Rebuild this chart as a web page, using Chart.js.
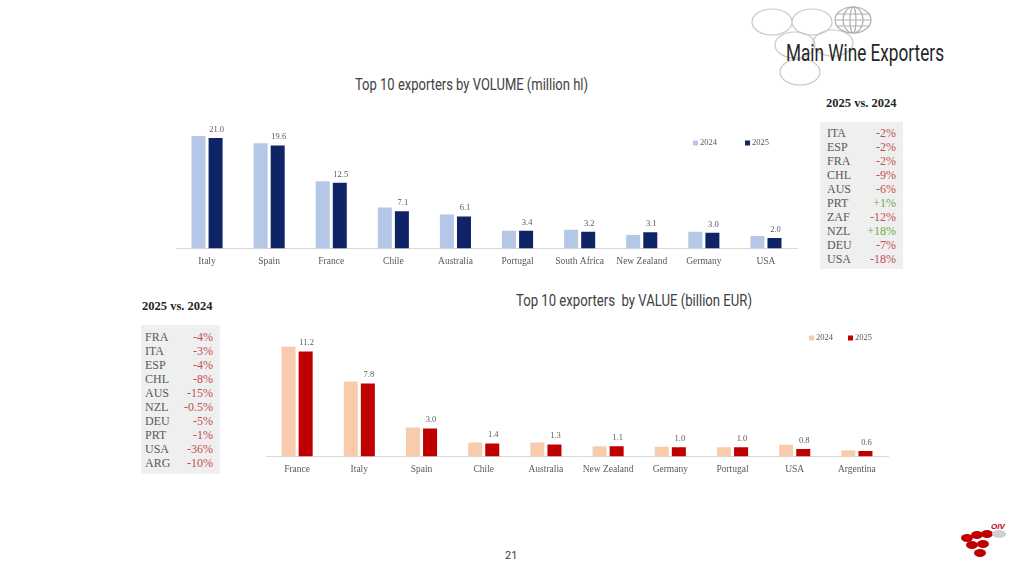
<!DOCTYPE html>
<html>
<head>
<meta charset="utf-8">
<script src="https://cdn.jsdelivr.net/npm/chart.js@4.4.1/dist/chart.umd.min.js"></script>
<style>
  body { margin: 0; width: 1024px; height: 576px; background: #fff; position: relative; overflow: hidden; }
  .abs { position: absolute; }
  .narrow { font-family: "Roboto", sans-serif; font-weight: 400; color: #262626; white-space: nowrap; transform-origin: 0 0; }
  .hdr { font-family: "Liberation Serif", serif; font-weight: bold; font-size: 12.5px; color: #262626; }
  .tbl { background: #efefef; font-family: "Liberation Serif", serif; font-size: 12px; line-height: 14px; color: #595959; }
  .tbl .row { display: flex; justify-content: space-between; }
  .neg { color: #c0504d; }
  .pos { color: #70ad47; }
</style>
</head>
<body>
<svg class="abs" style="left:0;top:0" width="1024" height="576">
  <g fill="none" stroke="#c8c8c8" stroke-width="1.2">
    <ellipse cx="772" cy="22" rx="20" ry="13"/>
    <ellipse cx="812" cy="22" rx="20" ry="13"/>
    <ellipse cx="795" cy="45" rx="20" ry="13"/>
    <ellipse cx="833" cy="43" rx="20" ry="13"/>
    <ellipse cx="800" cy="72" rx="20" ry="13"/>
    <ellipse cx="853" cy="20" rx="18" ry="13" stroke="#b0b0b0"/>
    <ellipse cx="853" cy="20" rx="10" ry="13" stroke="#b0b0b0"/>
    <ellipse cx="853" cy="20" rx="3" ry="13" stroke="#b0b0b0"/>
    <line x1="836" y1="14" x2="870" y2="14" stroke="#b0b0b0"/>
    <line x1="835" y1="20" x2="871" y2="20" stroke="#b0b0b0"/>
    <line x1="836" y1="26" x2="870" y2="26" stroke="#b0b0b0"/>
  </g>
  <g fill="#c00000">
    <ellipse cx="967" cy="538" rx="6" ry="4"/>
    <ellipse cx="977" cy="535" rx="6" ry="4"/>
    <ellipse cx="987" cy="534" rx="6" ry="4"/>
    <ellipse cx="972" cy="545" rx="6" ry="4"/>
    <ellipse cx="983" cy="544" rx="6" ry="4"/>
    <ellipse cx="980" cy="553" rx="6" ry="4"/>
  </g>
  <ellipse cx="999" cy="534" rx="7" ry="4" fill="#d0d0d0"/>
  <text x="991" y="529" font-family="Liberation Sans, sans-serif" font-style="italic" font-weight="bold" font-size="8" fill="#c00000">OIV</text>
</svg>

<div class="abs narrow fit" data-w="158" style="left:786px;top:40px;font-size:23px;">Main Wine Exporters</div>
<div class="abs narrow fit" data-w="233" style="left:355px;top:75px;font-size:16px;color:#404040;">Top 10 exporters by VOLUME (million hl)</div>
<div class="abs narrow fit" data-w="236" style="left:516px;top:291px;font-size:16px;color:#404040;">Top 10 exporters&nbsp; by VALUE (billion EUR)</div>
<div class="abs narrow" style="left:505px;top:549px;font-size:11px;color:#404040;">21</div>

<div class="abs hdr" style="left:826px;top:96px;">2025 vs. 2024</div>
<div class="abs tbl" id="tblVolume" style="left:820px;top:122px;width:69px;padding:4px 7px 3px 7px;"></div>
<div class="abs hdr" style="left:142px;top:299px;">2025 vs. 2024</div>
<div class="abs tbl" id="tblValue" style="left:141px;top:325px;width:68px;padding:5px 7px 4px 4px;"></div>

<canvas id="volumeChart" class="abs" width="680" height="175" style="left:146px;top:100px;"></canvas>
<canvas id="valueChart" class="abs" width="680" height="160" style="left:236px;top:330px;"></canvas>

<script>
// Volume (million hl)
const volumeCountries = ['Italy', 'Spain', 'France', 'Chile', 'Australia', 'Portugal', 'South Africa', 'New Zealand', 'Germany', 'USA'];
const volume2024 = [21.4, 20.0, 12.8, 7.8, 6.5, 3.4, 3.6, 2.6, 3.2, 2.4];
const volume2025 = [21.0, 19.6, 12.5, 7.1, 6.1, 3.4, 3.2, 3.1, 3.0, 2.0];
const volumeCodes = ['ITA', 'ESP', 'FRA', 'CHL', 'AUS', 'PRT', 'ZAF', 'NZL', 'DEU', 'USA'];
const volumeChange = ['-2%', '-2%', '-2%', '-9%', '-6%', '+1%', '-12%', '+18%', '-7%', '-18%'];

// Value (billion EUR)
const valueCountries = ['France', 'Italy', 'Spain', 'Chile', 'Australia', 'New Zealand', 'Germany', 'Portugal', 'USA', 'Argentina'];
const value2024 = [11.7, 8.0, 3.1, 1.5, 1.5, 1.1, 1.05, 1.0, 1.25, 0.67];
const value2025 = [11.2, 7.8, 3.0, 1.4, 1.3, 1.1, 1.0, 1.0, 0.8, 0.6];
const valueCodes = ['FRA', 'ITA', 'ESP', 'CHL', 'AUS', 'NZL', 'DEU', 'PRT', 'USA', 'ARG'];
const valueChange = ['-4%', '-3%', '-4%', '-8%', '-15%', '-0.5%', '-5%', '-1%', '-36%', '-10%'];

const years = ['2024', '2025'];

// squeeze the condensed titles to their width in the slide
document.querySelectorAll('.fit').forEach(el => {
    const w = el.getBoundingClientRect().width;
    el.style.transform = `scaleX(${el.dataset.w / w})`;
});

function fillTable(id, codes, changes) {
    const el = document.getElementById(id);
    codes.forEach((code, i) => {
        const row = document.createElement('div');
        row.className = 'row';
        const cls = changes[i].startsWith('+') ? 'pos' : 'neg';
        row.innerHTML = `<span>${code}</span><span class="${cls}">${changes[i]}</span>`;
        el.appendChild(row);
    });
}
fillTable('tblVolume', volumeCodes, volumeChange);
fillTable('tblValue', valueCodes, valueChange);

// labels above the 2025 bars + small legend inside the plot
const barExtras = {
    id: 'barExtras',
    afterDatasetsDraw(chart, args, opts) {
        const ctx = chart.ctx;
        ctx.save();
        ctx.font = '8.5px "Liberation Serif", serif';
        ctx.fillStyle = '#595959';
        ctx.textAlign = 'center';
        ctx.textBaseline = 'bottom';
        const meta = chart.getDatasetMeta(1);
        meta.data.forEach((bar, i) => {
            ctx.fillText(chart.data.datasets[1].data[i].toFixed(1), bar.x + 1, bar.y - 4);
        });
        // legend
        ctx.textAlign = 'left';
        ctx.textBaseline = 'middle';
        chart.data.datasets.forEach((ds, i) => {
            const x = chart.chartArea.right + opts.x[i];
            const y = chart.chartArea.top + opts.y;
            ctx.fillStyle = ds.backgroundColor;
            ctx.fillRect(x, y - 2.5, 5, 5);
            ctx.fillStyle = '#595959';
            ctx.fillText(ds.label, x + 7, y);
        });
        ctx.restore();
    }
};

function makeChart(id, labels, d24, d25, colors, yMax, pad, legendPos) {
    const ctx = document.getElementById(id).getContext('2d');
    return new Chart(ctx, {
        type: 'bar',
        data: {
            labels: labels,
            datasets: [
                { label: years[0], data: d24, backgroundColor: colors[0] },
                { label: years[1], data: d25, backgroundColor: colors[1] }
            ]
        },
        options: {
            responsive: false,
            animation: false,
            layout: { padding: pad },
            datasets: { bar: { categoryPercentage: 0.55, barPercentage: 0.82 } },
            plugins: {
                legend: { display: false },
                tooltip: { enabled: false },
                barExtras: legendPos
            },
            scales: {
                x: {
                    grid: { display: false, drawTicks: false },
                    border: { display: true, color: '#d9d9d9', width: 1 },
                    ticks: { color: '#595959', padding: 7, font: { family: '"Liberation Serif", serif', size: 9.5 } }
                },
                y: { display: false, min: 0, max: yMax }
            }
        },
        plugins: [barExtras]
    });
}

makeChart('volumeChart', volumeCountries, volume2024, volume2025,
    ['#b4c7e7', '#0f2466'], 25, { left: 30, right: 29, top: 17, bottom: 1 }, { x: [-104, -52], y: 26 });
makeChart('valueChart', valueCountries, value2024, value2025,
    ['#f8cbad', '#c00000'], 12, { left: 30, right: 28, top: 14, bottom: 8 }, { x: [-79, -40], y: -6 });
</script>
</body>
</html>
